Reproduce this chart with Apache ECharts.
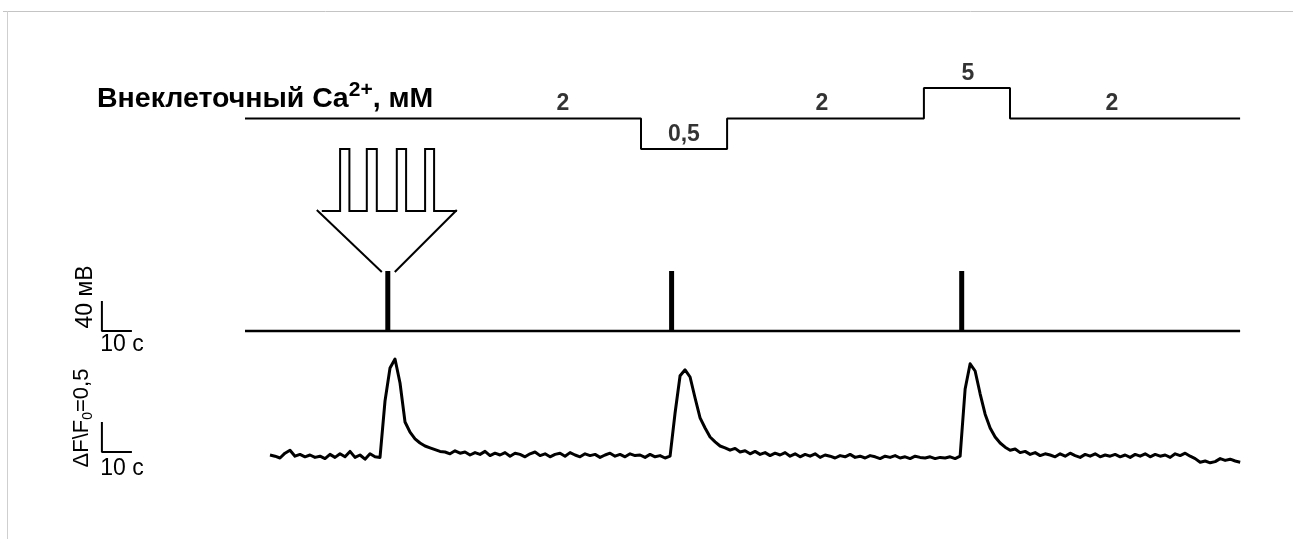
<!DOCTYPE html>
<html>
<head>
<meta charset="utf-8">
<script src="https://cdn.jsdelivr.net/npm/echarts@6/dist/echarts.min.js"></script>
<style>
  html, body { margin: 0; padding: 0; background: #fff; }
  #chart { width: 1293px; height: 539px; }
</style>
</head>
<body>
<div id="chart"></div>
<script>
// концентрация Ca2+ (ступеньки), уровни на схеме идут через равный шаг
var caCats = ['0,5', '2', '5'];
var caTimes = [0, 132, 160.7, 226.3, 255, 331.7];
var caLevels = ['2', '0,5', '2', '5', '2', '2'];
var caLabelTimes = [106, 146.3, 192.3, 241, 289];
var caLabelLevels = ['2', '0,5', '2', '5', '2'];

// стимуляция, мВ
var stimSpan = [0, 331.7];
var stimTimes = [47.6, 142.2, 238.9];
var stimAmp = [80, 80, 80];

// флуоресценция dF/F0, отсчёты каждые fStep секунд
var fStart = 8.33;
var fStep = 1.667;
var fluor = [
  0.00, -0.02, -0.05, 0.03, 0.08, -0.02, 0.01, -0.03, 0.00, -0.04,
  -0.02, -0.06, 0.01, -0.04, 0.02, -0.03, 0.06, -0.04, 0.00, -0.07,
  0.02, -0.03, -0.04, 0.90, 1.45, 1.60, 1.20, 0.55, 0.38, 0.27,
  0.20, 0.15, 0.12, 0.09, 0.06, 0.05, 0.02, 0.07, 0.03, 0.05,
  0.00, 0.04, 0.01, 0.06, -0.01, 0.03, 0.00, 0.04, -0.02, 0.03,
  0.01, -0.03, 0.02, 0.05, -0.01, 0.02, -0.03, 0.01, 0.03, -0.02,
  0.04, 0.00, -0.03, 0.02, -0.01, 0.01, -0.04, 0.00, 0.03, -0.02,
  0.01, -0.03, 0.02, -0.01, 0.00, -0.04, 0.01, -0.03, -0.01, -0.05,
  -0.02, 0.70, 1.32, 1.42, 1.30, 0.95, 0.62, 0.45, 0.30, 0.22,
  0.15, 0.12, 0.08, 0.11, 0.05, 0.07, 0.02, 0.06, 0.01, 0.04,
  -0.01, 0.03, 0.00, 0.04, -0.02, 0.02, -0.03, 0.01, -0.02, 0.02,
  -0.04, 0.00, -0.02, -0.05, -0.01, -0.03, 0.01, -0.04, -0.02, -0.05,
  -0.01, -0.03, -0.06, -0.02, -0.04, -0.01, -0.05, -0.03, -0.06, -0.02,
  -0.04, -0.05, -0.03, -0.06, -0.04, -0.05, -0.03, -0.06, -0.02, 1.10,
  1.52, 1.40, 1.02, 0.68, 0.45, 0.30, 0.20, 0.13, 0.08, 0.10,
  0.04, 0.06, 0.01, 0.04, -0.01, 0.02, 0.00, -0.03, 0.02, -0.02,
  0.03, -0.01, -0.04, 0.01, -0.02, 0.02, -0.03, 0.00, -0.02, 0.01,
  -0.03, 0.00, -0.04, 0.01, -0.02, 0.02, -0.03, 0.01, -0.02, 0.00,
  -0.04, 0.02, -0.01, 0.03, -0.02, -0.06, -0.12, -0.10, -0.13, -0.11,
  -0.06, -0.09, -0.07, -0.10, -0.12
];

// масштабные отрезки
var barX = -47.7;     // с
var barT = 10;        // 10 с
var barMv = 40;       // 40 мВ
var barDfBase = 0.05;
var barDf = 0.5;

var chart = echarts.init(document.getElementById('chart'));
var FONT = '"Liberation Sans", Arial, sans-serif';

var caData = [];
for (var i = 0; i < caTimes.length; i++) {
    caData.push([caTimes[i], caCats.indexOf(caLevels[i])]);
}
var caLabelData = [];
for (var i = 0; i < caLabelTimes.length; i++) {
    caLabelData.push({ value: [caLabelTimes[i], caCats.indexOf(caLabelLevels[i])], name: caLabelLevels[i] });
}
var stimBars = [];
for (var i = 0; i < stimTimes.length; i++) {
    stimBars.push([stimTimes[i], stimAmp[i]]);
}
var fluorData = [];
for (var i = 0; i < fluor.length; i++) {
    fluorData.push([fStart + i * fStep, fluor[i]]);
}

function xAx(idx) {
    return { type: 'value', gridIndex: idx, min: -80, max: 340, show: false };
}

var option = {
    backgroundColor: '#fff',
    animation: false,
    grid: [
        { left: 5, width: 1260, top: 88, height: 61, outerBoundsMode: 'none' },
        { left: 5, width: 1260, top: 256, height: 82.5, outerBoundsMode: 'none' },
        { left: 5, width: 1260, top: 347, height: 126, outerBoundsMode: 'none' }
    ],
    xAxis: [xAx(0), xAx(1), xAx(2)],
    yAxis: [
        { type: 'value', gridIndex: 0, min: 0, max: caCats.length - 1, show: false },
        { type: 'value', gridIndex: 1, min: -10, max: 100, show: false },
        { type: 'value', gridIndex: 2, min: -0.3, max: 1.8, show: false }
    ],
    series: [
        {
            type: 'line', xAxisIndex: 0, yAxisIndex: 0, step: 'end',
            data: caData, symbol: 'none', clip: false,
            lineStyle: { color: '#000', width: 2 }
        },
        {
            type: 'scatter', xAxisIndex: 0, yAxisIndex: 0,
            data: caLabelData, symbolSize: 0, clip: false,
            label: {
                show: true, position: 'top', distance: 3,
                formatter: '{b}', color: '#000',
                fontFamily: FONT, fontWeight: 'bold', fontSize: 23
            }
        },
        {
            type: 'line', xAxisIndex: 1, yAxisIndex: 1,
            data: [[stimSpan[0], 0], [stimSpan[1], 0]], symbol: 'none',
            lineStyle: { color: '#000', width: 2.5 }
        },
        {
            type: 'bar', xAxisIndex: 1, yAxisIndex: 1,
            data: stimBars, barWidth: 5,
            itemStyle: { color: '#000' }
        },
        {
            // масштаб 40 мВ / 10 с
            type: 'line', xAxisIndex: 1, yAxisIndex: 1, symbol: 'none',
            data: [[barX, barMv], [barX, 0], [barX + barT, 0]],
            lineStyle: { color: '#000', width: 2 }
        },
        {
            type: 'line', xAxisIndex: 2, yAxisIndex: 2,
            data: fluorData, symbol: 'none',
            lineStyle: { color: '#000', width: 3, join: 'round' }
        },
        {
            // масштаб dF/F0 = 0,5 / 10 с
            type: 'line', xAxisIndex: 2, yAxisIndex: 2, symbol: 'none',
            data: [[barX, barDfBase + barDf], [barX, barDfBase], [barX + barT, barDfBase]],
            lineStyle: { color: '#000', width: 2 }
        }
    ]
};
chart.setOption(option);

// подписи и схема пачки импульсов
var p = chart.convertToPixel({ xAxisIndex: 1, yAxisIndex: 1 }, [stimTimes[0], stimAmp[0]]);
var px = p[0], py = p[1];
var trainBase = py - 60, trainTop = py - 122;
var pulsesX = [[-47.7, -38.4], [-21, -11], [9, 18.3], [37.3, 46.3]];
var trainPts = [[px - 66, trainBase]];
for (var k = 0; k < pulsesX.length; k++) {
    trainPts.push([px + pulsesX[k][0], trainBase]);
    trainPts.push([px + pulsesX[k][0], trainTop]);
    trainPts.push([px + pulsesX[k][1], trainTop]);
    trainPts.push([px + pulsesX[k][1], trainBase]);
}
trainPts.push([px + 69, trainBase]);

var lineSt = { stroke: '#000', lineWidth: 2, fill: null };
chart.setOption({
    graphic: [
        { type: 'line', shape: { x1: 3, y1: 11.5, x2: 1293, y2: 11.5 }, style: { stroke: '#c4c4c4', lineWidth: 1 }, silent: true },
        { type: 'line', shape: { x1: 7.5, y1: 11, x2: 7.5, y2: 539 }, style: { stroke: '#cfcfcf', lineWidth: 1 }, silent: true },
        { type: 'polyline', shape: { points: trainPts }, style: lineSt },
        { type: 'line', shape: { x1: px - 71, y1: trainBase - 1, x2: px - 6, y2: py + 1 }, style: lineSt },
        { type: 'line', shape: { x1: px + 69, y1: trainBase - 1, x2: px + 7, y2: py + 1 }, style: lineSt },
        {
            type: 'text', x: 97, y: 99,
            style: {
                text: '{a|Внеклеточный Ca}{s|2+}{a|, мМ}',
                verticalAlign: 'middle',
                rich: {
                    a: { fontFamily: FONT, fontWeight: 'bold', fontSize: 28.5, fill: '#000' },
                    s: { fontFamily: FONT, fontWeight: 'bold', fontSize: 21, fill: '#000', verticalAlign: 'top', padding: [0, 0, 17, 0] }
                }
            }
        },
        {
            type: 'text', x: 86, y: 297, rotation: Math.PI / 2,
            style: { text: '40 мВ', fontFamily: FONT, fontSize: 23, fill: '#000', align: 'center', verticalAlign: 'middle' }
        },
        {
            type: 'text', x: 122, y: 345,
            style: { text: '10 с', fontFamily: FONT, fontSize: 23, fill: '#000', align: 'center', verticalAlign: 'middle' }
        },
        {
            type: 'text', x: 82, y: 418, rotation: Math.PI / 2,
            style: {
                text: '{a|ΔF\\F}{s|0}{a|=0,5}',
                align: 'center', verticalAlign: 'middle',
                rich: {
                    a: { fontFamily: FONT, fontSize: 22, fill: '#000' },
                    s: { fontFamily: FONT, fontSize: 14, fill: '#000', padding: [12, 0, 0, 0] }
                }
            }
        },
        {
            type: 'text', x: 122, y: 469,
            style: { text: '10 с', fontFamily: FONT, fontSize: 23, fill: '#000', align: 'center', verticalAlign: 'middle' }
        }
    ]
});

window.onresize = function () {
    chart.resize();
};
</script>
</body>
</html>
